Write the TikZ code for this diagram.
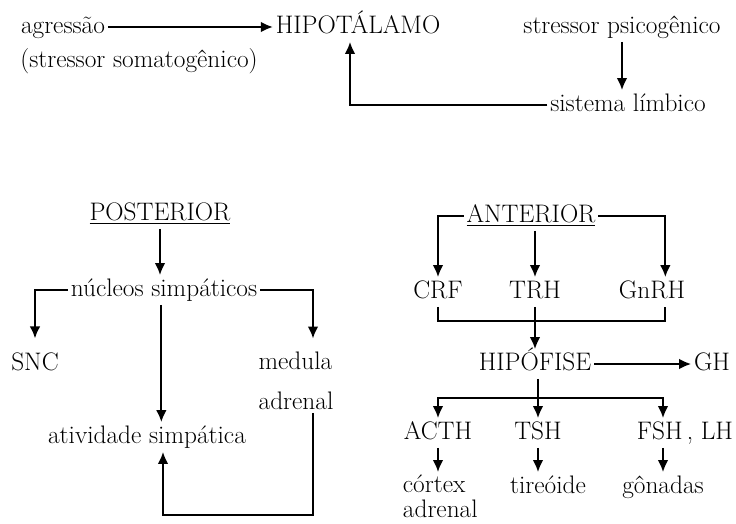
\documentclass[tikz,border=0pt]{standalone}
\usepackage{tikz}
\usetikzlibrary{arrows.meta}

\begin{document}
\begin{tikzpicture}[x=0.75pt, y=-0.75pt, every node/.style={font=\fontsize{19}{21}\selectfont, inner sep=2pt}, >={Latex[length=9pt, width=8pt]}, lbl/.style={text height=14pt, text depth=4pt}, arr/.style={->, line width=1.4pt}, ln/.style={line width=1.4pt}]
	\path[use as bounding box] (0,0) rectangle (736,524);
	\node[lbl] (hipo) at (358,27) {HIPOTÁLAMO};
	\node[lbl] (agr) at (63,27) {agressão};
	\node[lbl] (soma) at (139,61) {(stressor somatogênico)};
	\node[lbl] (psico) at (622,27) {stressor psicogênico};
	\node[lbl] (limb) at (628,105) {sistema límbico};
	\draw[arr] (agr) -- (hipo);
	\draw[arr] (psico.south) -- (psico.south |- limb.north);
	\draw[arr] (limb.west) -| ([xshift=-6pt]hipo.south);
	\node[lbl] (post) at (160,214) {\underline{POSTERIOR}};
	\node[lbl] (nuc) at (164,290) {núcleos simpáticos};
	\node[lbl] (snc) at (35,364) {SNC};
	\node[align=left] (med) at (296,381) {medula\\[9pt]adrenal};
	\node[lbl] (ativ) at (147,437) {atividade simpática};
	\coordinate (back) at (313,515);
	\draw[arr] (post.south) -- (post.south |- nuc.north);
	\draw[arr, shorten >=8pt] (nuc.west) -| (snc.north);
	\draw[arr, shorten >=8pt] (nuc.east) -| ([xshift=12.75pt]med.north);
	\draw[arr] ([xshift=-2pt]nuc.south) -- ([xshift=-2pt]nuc.south |- ativ.north);
	\draw[arr] ([xshift=12.75pt]med.south) -- (back) -| ([xshift=12pt]ativ.south);
	\node[lbl] (ant) at (531,216) {\underline{ANTERIOR}};
	\node[lbl] (crf) at (438,292) {CRF};
	\node[lbl] (trh) at (535,292) {TRH};
	\node[lbl] (gnrh) at (652,292) {GnRH};
	\node[lbl] (hipof) at (535,364) {HIPÓFISE};
	\node[lbl] (gh) at (712,364) {GH};
	\node[lbl] (acth) at (438,433) {ACTH};
	\node[lbl] (tsh) at (538,433) {TSH};
	\node[lbl, anchor=east] (fsh) at (736,433) {FSH\,, LH};
	\node[align=left, anchor=north west] (cortex) at (400,472) {córtex\\[-2pt]adrenal};
	\node[lbl] (tireo) at (548,487) {tireóide};
	\node[lbl] (gon) at (663,487) {gônadas};
	\coordinate (split) at (538,398);
	\draw[arr] (ant.west) -| (crf.north);
	\draw[arr] (ant.south -| trh.north) -- (trh.north);
	\draw[arr] (ant.east) -| ([xshift=10pt]gnrh.north);
	\draw[ln] (crf.south) -- ++(0,14) -| ([xshift=10pt]gnrh.south);
	\draw[arr] (trh.south) -- (trh.south |- hipof.north);
	\draw[arr] (hipof.east) -- (gh.west);
	\draw[arr] (hipof.south -| tsh.north) -- (tsh.north);
	\draw[arr] (split) -| (acth.north);
	\draw[arr] (split) -| (gon.north |- fsh.north);
	\draw[arr] (acth.south) -- (acth.south |- cortex.north);
	\draw[arr] (tsh.south) -- (tsh.south |- tireo.north);
	\draw[arr] (gon.north |- fsh.south) -- (gon.north);
\end{tikzpicture}
\end{document}
